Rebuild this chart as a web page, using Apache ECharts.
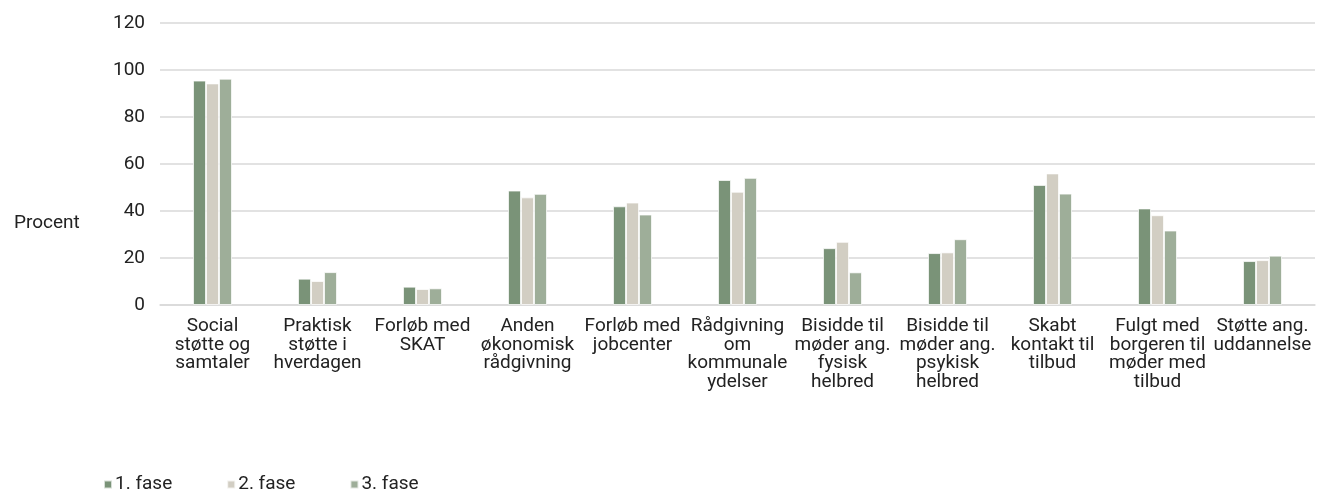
<!DOCTYPE html>
<html>
<head>
<meta charset="utf-8">
<script src="https://cdn.jsdelivr.net/npm/echarts@6/dist/echarts.min.js"></script>
<style>
  html, body { margin: 0; padding: 0; background: #fff; }
  #chart { width: 1319px; height: 492px; }
</style>
</head>
<body>
<div id="chart"></div>
<script>
// kategorier (med linjeskift som i figuren)
const categories = [
  'Social\nstøtte og\nsamtaler',
  'Praktisk\nstøtte i\nhverdagen',
  'Forløb med\nSKAT',
  'Anden\nøkonomisk\nrådgivning',
  'Forløb med\njobcenter',
  'Rådgivning\nom\nkommunale\nydelser',
  'Bisidde til\nmøder ang.\nfysisk\nhelbred',
  'Bisidde til\nmøder ang.\npsykisk\nhelbred',
  'Skabt\nkontakt til\ntilbud',
  'Fulgt med\nborgeren til\nmøder med\ntilbud',
  'Støtte ang.\nuddannelse'
];

const seriesNames = ['1. fase', '2. fase', '3. fase'];

const fase1 = [95.5, 11.2, 7.8, 48.7, 42.0, 53.2, 24.2, 22.1, 51.1, 41.1, 18.7];
const fase2 = [94.3, 10.2, 6.8, 45.8, 43.6, 48.2, 26.9, 22.4, 56.0, 38.2, 19.1];
const fase3 = [96.3, 14.0, 7.1, 47.3, 38.5, 54.1, 13.9, 28.0, 47.4, 31.7, 21.0];

const colors = ['#7a9378', '#d2cec3', '#9eae99'];

const chart = echarts.init(document.getElementById('chart'));

const FONT = 'Roboto';

function barSeries(name, data, color) {
  return {
    name: name,
    type: 'bar',
    data: data,
    barWidth: 13,
    barGap: '0%',
    itemStyle: {
      color: color,
      borderColor: 'rgba(255,255,255,0.7)',
      borderWidth: 1
    }
  };
}

const option = {
  backgroundColor: '#fff',
  animation: false,
  textStyle: { fontFamily: FONT },
  grid: {
    left: 160,
    right: 4,
    top: 23,
    bottom: 187
  },
  legend: {
    data: seriesNames,
    left: 98,
    top: 470,
    itemWidth: 8,
    itemHeight: 8,
    itemGap: 54,
    icon: 'rect',
    textStyle: { color: '#222', fontSize: 19, fontFamily: FONT, padding: [0, 0, 0, -2] }
  },
  graphic: [
    {
      type: 'text',
      left: 14,
      top: 214,
      style: { text: 'Procent', fill: '#222', fontSize: 19, fontFamily: FONT }
    }
  ],
  xAxis: {
    type: 'category',
    data: categories,
    axisTick: { show: false },
    axisLine: { lineStyle: { color: '#d9d9d9', width: 1.5 } },
    axisLabel: {
      color: '#222',
      fontSize: 19,
      lineHeight: 18.5,
      margin: 12,
      interval: 0,
      fontFamily: FONT
    }
  },
  yAxis: {
    type: 'value',
    min: 0,
    max: 120,
    interval: 20,
    axisLine: { show: false },
    axisTick: { show: false },
    axisLabel: { color: '#222', fontSize: 19, margin: 15, fontFamily: FONT },
    splitLine: { lineStyle: { color: '#d9d9d9', width: 1.5 } }
  },
  series: [
    barSeries(seriesNames[0], fase1, colors[0]),
    barSeries(seriesNames[1], fase2, colors[1]),
    barSeries(seriesNames[2], fase3, colors[2])
  ]
};

chart.setOption(option);
</script>
</body>
</html>
